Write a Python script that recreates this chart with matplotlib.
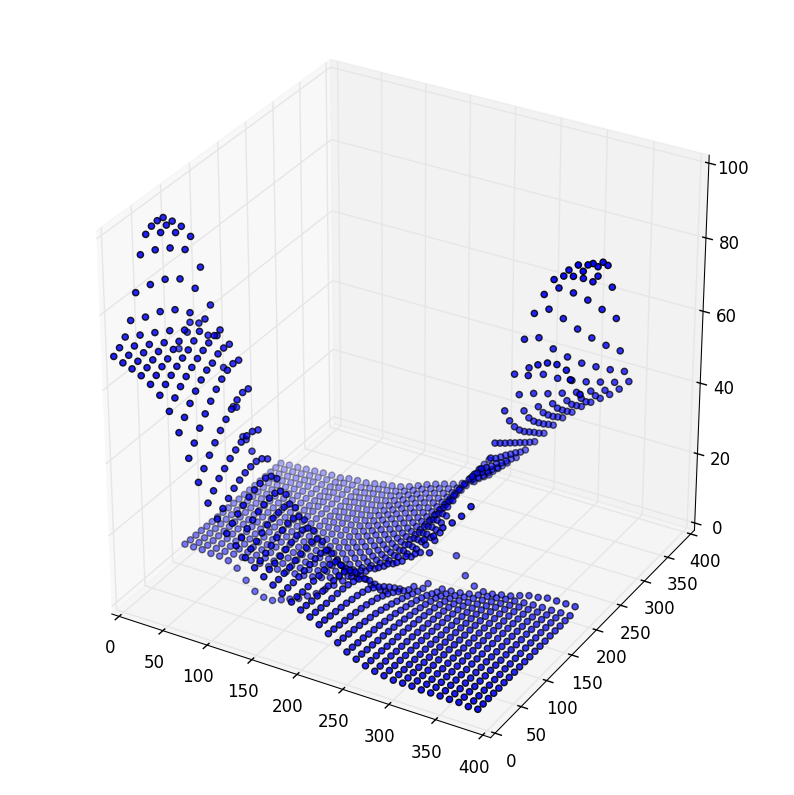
import matplotlib
matplotlib.use("Agg")
import matplotlib.pyplot as plt
import numpy as np
from mpl_toolkits.mplot3d import Axes3D  # noqa

plt.style.use("classic")

nan = float("nan")
x_grid = list(range(0, 400, 10))
y_grid = list(range(0, 400, 10))

# front sheet: one row per x value, starting at y = 0
front_z = [
 [68.7,69.8,71.45,74.65,80.85,89.7,93.9,94.9,95.2,94.9],
 [67.7,68.5,69.75,71.45,75.05,82.5,90.5,93.9,94.7,94.6],
 [66.8,67.6,68.65,69.65,71.6,76,83.4,90.5,93.4,93.9],
 [65.7,66.6,67.45,68.45,69.6,71.6,76,83,89.6,91.9],
 [64.1,65.25,66.35,67.2,68.5,69.45,71.25,74.7,80,84.45],
 [61.9,63.55,64.75,65.9,66.9,67.85,69.05,70.4,72.5,75.05],
 [58.3,60.65,62.45,63.9,65.1,66.25,67.2,68,68.75,69.05],
 [53.3,56.15,58.65,60.7,62.45,63.85,64.5,65.75,66.1,65.9],
 [47.1,49.95,52.7,55.3,57.45,59.4,60.9,62.05,62.6,62.3],
 [41.3,43.75,46.1,48.2,50.25,52,53.5,54.75,55.5,55.25],
 [36.4,38.45,40.5,41.9,43.35,44.4,45.25,45.7,45.6,44.75],
 [32.8,34.35,35.8,37.25,38.2,38.9,39.25,39.4,38.85,37.5],
 [29.6,31.05,32.3,33.35,34.3,34.95,35.4,35.55,34.75,32.8],
 [27,27.85,29,30.05,31,31.65,32.1,32.15,31.4,29.15],
 [24.5,25.55,26.3,27.25,28.1,28.65,28.9,29.05,28.6,26.25],
 [22.5,23.05,23.8,24.55,25.4,26.05,26.7,26.7,25.85,23.6],
 [20.8,21.45,21.8,22.35,22.9,23.5,24.05,24.2,23.45,21.4],
 [19.3,19.45,19.8,20.05,20.6,21.1,21.45,21.7,21.15,19.1,15.3],
 [17.8,17.95,18,18.2,18.55,18.9,19.15,19.3,18.8,16.55,13.2,10.25],
 [16.2,16.25,16.2,16.3,16.45,16.6,16.8,16.95,16.3,14.05,11.6,9.2,6.25],
 [14.8,14.65,14.5,14.5,14.45,14.5,14.6,14.65,14.3,13.4,11.55,9.1,6.7,3.75],
 [13.65,13.55,13.4,13.25,13.2,13.2,13.1,12.85,12.4,11.7,10.45,8.5,6.1,3.15,1.4],
 [12.35,12.2,11.95,11.75,11.5,11.3,10.95,10.65,10.2,9.6,8.65,7.5,6.2,4.7,3.05,1.4],
 [10.65,10.5,10.25,10.05,9.8,9.5,9.2,8.85,8.4,7.9,7.15,6.35,5.35,4.2,3.05,1.95,1.5],
 [8.95,8.8,8.55,8.35,8.1,7.8,7.5,7.2,6.75,6.2,5.7,5.05,4.45,3.75,3,2.3,1.75,1.75],
 [7.2,7.1,6.9,6.8,6.5,6.3,6.1,5.8,5.5,5.2,4.7,4.3,3.8,3.3,2.65,1.95,1,0.1,-0.4],
 [6,6,5.8,5.7,5.5,5.4,5.2,5,4.75,4.45,4.1,3.8,3.4,3,2.45,1.95,1.2,0.4,-0.2,8.55],
 [5,5,4.95,4.85,4.7,4.6,4.5,4.4,4.15,3.95,3.7,3.4,3.1,2.8,2.35,1.85,1.3,0.7,0.1,3.65],
 [4.3,4.3,4.25,4.25,4.1,4.1,4,3.9,3.75,3.55,3.4,3.2,2.9,2.7,2.35,1.95,1.5,1.1,0.6,1.45],
 [3.9,3.9,3.85,3.85,3.8,3.8,3.7,3.7,3.55,3.45,3.3,3.1,2.9,2.7,2.45,2.15,1.8,1.5,1.1,0.65],
 [3.5,3.6,3.55,3.55,3.5,3.5,3.5,3.5,3.35,3.25,3.2,3.1,2.9,2.8,2.55,2.35,2.1,1.8,1.5,0.75],
 [3.5,3.5,3.55,3.55,3.5,3.5,3.5,3.5,3.45,3.35,3.3,3.2,3.1,3,2.85,2.65,2.4,2.2,1.9,1.35],
 [3.5,3.5,3.55,3.55,3.5,3.6,3.6,3.6,3.55,3.45,3.4,3.4,3.3,3.2,3.05,2.95,2.8,2.5,2.3,1.85],
 [3.3,3.4,3.35,3.45,3.4,3.5,3.5,3.5,3.45,3.45,3.4,3.4,3.4,3.3,3.25,3.15,3,2.8,2.6,2.75],
 [3.3,3.4,3.35,3.45,3.4,3.5,3.5,3.5,3.55,3.55,3.5,3.5,3.5,3.4,3.35,3.35,3.2,3.1,2.9,3.55],
 [3.3,3.3,3.35,3.35,3.4,3.4,3.5,3.5,3.45,3.55,3.5,3.5,3.5,3.5,3.45,3.35,3.3,3.2,3.1,3.85],
 [3.2,3.3,3.25,3.35,3.3,3.4,3.4,3.5,3.45,3.45,3.5,3.5,3.5,3.5,3.45,3.45,3.3,3.3,3.2,4.45],
 [3.2,3.2,3.25,3.25,3.3,3.3,3.4,3.4,3.35,3.45,3.4,3.4,3.4,3.5,3.45,3.45,3.4,3.3,3.2,4.45],
 [2.9,3,2.95,3.05,3,3.1,3.1,3.2,3.15,3.25,3.2,3.3,3.3,3.3,3.35,3.35,3.3,3.3,3.3,4.45],
 [3,3,3.05,3.05,3,3.1,3.1,3.1,3.15,3.15,3.1,3.2,3.2,3.2,3.25,3.25,3.2,3.3,3.3,4.45],
]

# loose points behind the left wing
extra_x = [20,30,40,50,50,60,70,70,80,80,10,0]
extra_y = [100,100,100,100,110,110,100,110,100,110,110,110]
extra_z = [67.1,67.6,65,65.6,55.7,45.7,47.5,38.1,39.3,34.8,62.5,57.3]

# back sheet: one row per x value, starting at y = 110
back_z = [
 [2.3,2.2,2.2,2.2,2.1,2.1,2.1,2.1,2.1,2.1,2,2,2,2,2,2,2,2,2],
 [2.3,2.2,2.2,2.2,2.2,2.2,2.2,2.2,2.2,2.2,2.2,2.2,2.2,2.2,2.2,2.2,2.2,2.2,2.2],
 [2.3,2.2,2.2,2.2,2.2,2.2,2.2,2.3,2.3,2.3,2.3,2.3,2.3,2.3,2.3,2.3,2.3,2.3,2.3],
 [2,2.1,2.1,2.2,2.2,2.3,2.3,2.3,2.4,2.4,2.4,2.4,2.5,2.5,2.5,2.5,2.5,2.5,2.5],
 [2,2,2.1,2.2,2.2,2.3,2.4,2.4,2.5,2.5,2.5,2.6,2.6,2.6,2.7,2.7,2.7,2.7,2.7],
 [1.5,2,2.1,2.2,2.3,2.4,2.5,2.5,2.6,2.6,2.7,2.7,2.8,2.8,2.8,2.9,2.9,2.9,2.9],
 [0.1,1.9,2,2.1,2.2,2.3,2.4,2.5,2.5,2.6,2.7,2.7,2.8,2.8,2.9,2.9,2.9,3,3],
 [-2.6,1.8,1.9,2.1,2.2,2.3,2.4,2.5,2.6,2.7,2.7,2.8,2.8,2.9,2.9,3,3,3,3],
 [-5,1.7,1.9,2.1,2.3,2.4,2.6,2.7,2.9,3,3.1,3.2,3.3,3.3,3.4,3.4,3.5,3.5,3.5],
 [-5.9,1.6,1.8,2,2.3,2.5,2.7,2.8,3,3.1,3.2,3.3,3.4,3.5,3.6,3.6,3.7,3.7,3.7],
 [-6,1.6,1.9,2.1,2.3,2.5,2.7,2.9,3,3.2,3.3,3.4,3.5,3.6,3.7,3.7,3.8,3.8,3.8],
 [-5,1.7,2,2.3,2.5,2.8,3,3.2,3.4,3.6,3.7,3.9,4,4.1,4.2,4.2,4.3,4.3,4.3],
 [-4,1.9,2.2,2.5,2.8,3.1,3.4,3.6,3.8,4,4.2,4.3,4.4,4.5,4.6,4.7,4.8,4.8,4.8],
 [-3,2.2,2.5,2.9,3.2,3.4,3.7,3.9,4.2,4.4,4.5,4.7,4.8,4.9,5,5.1,5.2,5.2,5.2],
 [-1.5,2.6,3,3.3,3.6,3.9,4.2,4.4,4.6,4.8,5,5.2,5.3,5.4,5.5,5.6,5.7,5.7,5.7],
 [0,3.2,3.6,3.9,4.3,4.6,4.9,5.1,5.4,5.6,5.8,5.9,6.1,6.2,6.3,6.4,6.5,6.5,6.5],
 [2,4,4.4,4.8,5.1,5.5,5.8,6,6.3,6.5,6.7,6.9,7.1,7.2,7.3,7.4,7.5,7.5,7.5],
 [4,5,5.4,5.8,6.2,6.5,6.8,7.1,7.4,7.6,7.8,8,8.1,8.3,8.4,8.5,8.5,8.6,8.6],
 [6,6,6.4,6.8,7.1,7.5,7.8,8,8.3,8.5,8.7,8.9,9.1,9.2,9.3,9.4,9.5,9.5,9.5],
 [8,7.5,7.8,8.1,8.4,8.7,8.9,9.1,9.3,9.5,9.7,9.8,10,10.1,10.2,10.2,10.3,10.3,10.3],
 [10.5,9,9.2,9.4,9.6,9.8,10,10.2,10.3,10.4,10.6,10.7,10.8,10.8,10.9,10.9,11,11,11],
 [12,10.5,10.7,10.8,11,11.1,11.3,11.4,11.5,11.6,11.7,11.7,11.8,11.9,11.9,12,12,12,12],
 [13,12,12.2,12.3,12.4,12.6,12.7,12.8,12.9,13,13.1,13.2,13.2,13.3,13.3,13.4,13.4,13.4,13.4],
 [14.8,13.5,14,14.4,14.8,15.2,15.5,15.8,16.1,16.4,16.6,16.8,17,17.2,17.3,17.4,17.5,17.5,17.5],
 [16,15,15.7,16.3,17,17.5,18,18.5,18.9,19.3,19.7,20,20.3,20.5,20.7,20.8,20.9,21,21],
 [18.5,17,17.8,18.5,19.3,19.9,20.5,21,21.6,22],
 [20,19,19.8,20.5,21.3,21.9,22.5],
 [24.7,19.7,21.8,22.6],
 [26.5],
 [29.6],
 [31.7],
 [34.3],
 [37.7],
]

# right wing: one row per x value going down from x = 390, each row going
# down from y = 290
wing_z = [
 [53.9,57.9,64.7,74.6,84.1,91,93,93,95,95.8,62.9,nan,69.3],
 [51.1,54.2,58.9,66.7,77.5,87.5,87.2,nan,92.3,95.1],
 [48.9,51.3,54.8,60.2,69.2,80.5,87.4,nan,90.3,66.7],
 [47.1,49.1,51.6,55.4,61.7,72.1,82.9,90.1,89.7,67.5],
 [45.3,46.7,48.9,51.8,56.3,63.9,75.4,84.7,88.1,67.2],
 [43.4,44.9,46.5,48.8,52.1,57.4,66.6,78.4,83.5,66],
 [41.1,42.6,44.2,46,48.5,52.5,59,70.1,77.8,62.4],
 [38.8,40.3,41.7,43.4,45.3,48.2,53.1,61.3,70.2],
 [36,37.5,38.9,40.5,42.2,44.4,47.6,53.3,60.1],
 [33,34.3,35.8,37.2,38.6,40.3,42.5,45.4,49.4],
 [29.9,31,32.2,33.5,34.7,36,37.2,38.5,39.8],
 [26.8,27.5,28.6,29.5,30.5,31.3,32.2,33.6],
 [23.9,24.8,25.5,26.3,27.5,28,28.9,29.9],
 [21.6,22.1,22.9,23.7,24.5,25.5,26.6,26.9],
 [19.3,19.8,20.7,21.2,22,22.8],
 [16.7,17.5,18.3,18.7],
]

x_ticks = [0, 50, 100, 150, 200, 250, 300, 350, 400]
y_ticks = [0, 50, 100, 150, 200, 250, 300, 350, 400]
z_ticks = [0, 20, 40, 60, 80, 100]

xs, ys, zs = [], [], []
for i, row in enumerate(front_z):
    for j, v in enumerate(row):
        xs.append(x_grid[i]); ys.append(y_grid[j]); zs.append(v)
xs += extra_x; ys += extra_y; zs += extra_z
for i, row in enumerate(back_z):
    for j, v in enumerate(row):
        xs.append(x_grid[i]); ys.append(y_grid[11 + j]); zs.append(v)
for r, row in enumerate(wing_z):
    for c, v in enumerate(row):
        if v == v:
            xs.append(x_grid[39 - r]); ys.append(y_grid[29 - c]); zs.append(v)

fig = plt.figure(figsize=(7.94, 7.95), dpi=100)
ax = fig.add_axes([0, 0, 1, 1], projection="3d")
ax.scatter(xs, ys, zs, c="b", s=20, edgecolors="k", linewidths=1.0)
ax.set_xlim(0, 400, view_margin=1/48)
ax.set_ylim(0, 400, view_margin=1/48)
ax.set_zlim(0, 100, view_margin=1/48)
ax.set_xticks(x_ticks)
ax.set_yticks(y_ticks)
ax.set_zticks(z_ticks)
ax.view_init(elev=30, azim=-60)
ax.set_box_aspect((1, 1, 1), zoom=0.926)
fig.savefig("out.png", dpi=100)
